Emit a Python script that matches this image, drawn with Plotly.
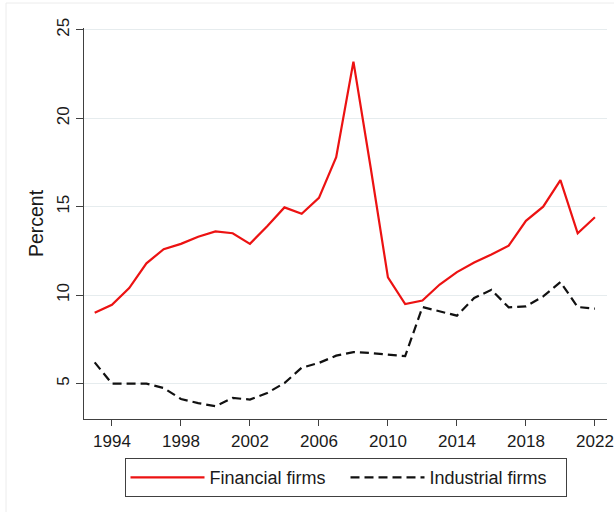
import plotly.graph_objects as go

# Share of firms (percent), 1993-2022
years = list(range(1993, 2023))

financial = [9.0, 9.46, 10.4, 11.8, 12.6, 12.9, 13.3, 13.6, 13.5, 12.9,
             13.9, 14.96, 14.6, 15.5, 17.8, 23.2, 17.2, 11.0, 9.5, 9.7,
             10.6, 11.3, 11.85, 12.3, 12.8, 14.2, 15.0, 16.5, 13.5, 14.4]

industrial = [6.2, 5.0, 5.0, 5.0, 4.75, 4.13, 3.9, 3.72, 4.19, 4.1,
              4.47, 5.03, 5.9, 6.17, 6.58, 6.78, 6.73, 6.64, 6.55, 9.33,
              9.1, 8.84, 9.84, 10.3, 9.31, 9.37, 9.93, 10.74, 9.33, 9.24]

x_ticks = list(range(1994, 2023, 4))
y_ticks = [5, 10, 15, 20, 25]

FONT = "Liberation Sans, Arial, sans-serif"
AXIS_COLOR = "#404040"
GRID_COLOR = "#e6ecee"

fig = go.Figure()

fig.add_trace(go.Scatter(
    x=years, y=financial, name="Financial firms", mode="lines",
    line=dict(color="#ec1212", width=2.2),
))
fig.add_trace(go.Scatter(
    x=years, y=industrial, name="Industrial firms", mode="lines",
    line=dict(color="#111111", width=2.2, dash="9px,5px"),
))

fig.update_layout(
    width=614, height=512,
    margin=dict(l=84, r=7, t=28, b=93, autoexpand=False),
    paper_bgcolor="white", plot_bgcolor="white",
    font=dict(family=FONT, size=17, color="#1a1a1a"),
    showlegend=True,
    legend=dict(
        orientation="h", x=0.5, xanchor="center", y=-0.100, yanchor="top",
        bordercolor=AXIS_COLOR, borderwidth=1, bgcolor="white",
        font=dict(family=FONT, size=18, color="#1a1a1a"),
        itemwidth=74, entrywidth=131, entrywidthmode="pixels",
        tracegroupgap=0,
    ),
    xaxis=dict(
        range=[1992.38, 2022.70], tickvals=x_ticks, automargin=False,
        showline=True, linecolor=AXIS_COLOR, linewidth=1.3,
        ticks="outside", ticklen=6, tickwidth=1.3, tickcolor=AXIS_COLOR,
        showgrid=False, zeroline=False,
    ),
    yaxis=dict(
        range=[3.0, 25.1], tickvals=y_ticks, tickangle=-90, automargin=False,
        showline=True, linecolor=AXIS_COLOR, linewidth=1.3,
        ticks="outside", ticklen=7, tickwidth=1.3, tickcolor=AXIS_COLOR,
        showgrid=True, gridcolor=GRID_COLOR, gridwidth=1.2, zeroline=False,
        title=dict(text="Percent", standoff=5, font=dict(size=19.5)),
    ),
)

# faint outer frame of the graph region
W, H = 523.0, 391.0
fig.add_shape(type="line", xref="paper", yref="paper",
              x0=(6 - 84) / W, x1=(6 - 84) / W, y0=(419 - 512) / H, y1=(419 - 3) / H,
              line=dict(color="#ececec", width=1))
fig.add_shape(type="line", xref="paper", yref="paper",
              x0=(6 - 84) / W, x1=(614 - 84) / W, y0=(419 - 3) / H, y1=(419 - 3) / H,
              line=dict(color="#ececec", width=1))

fig.write_html("out.html")
